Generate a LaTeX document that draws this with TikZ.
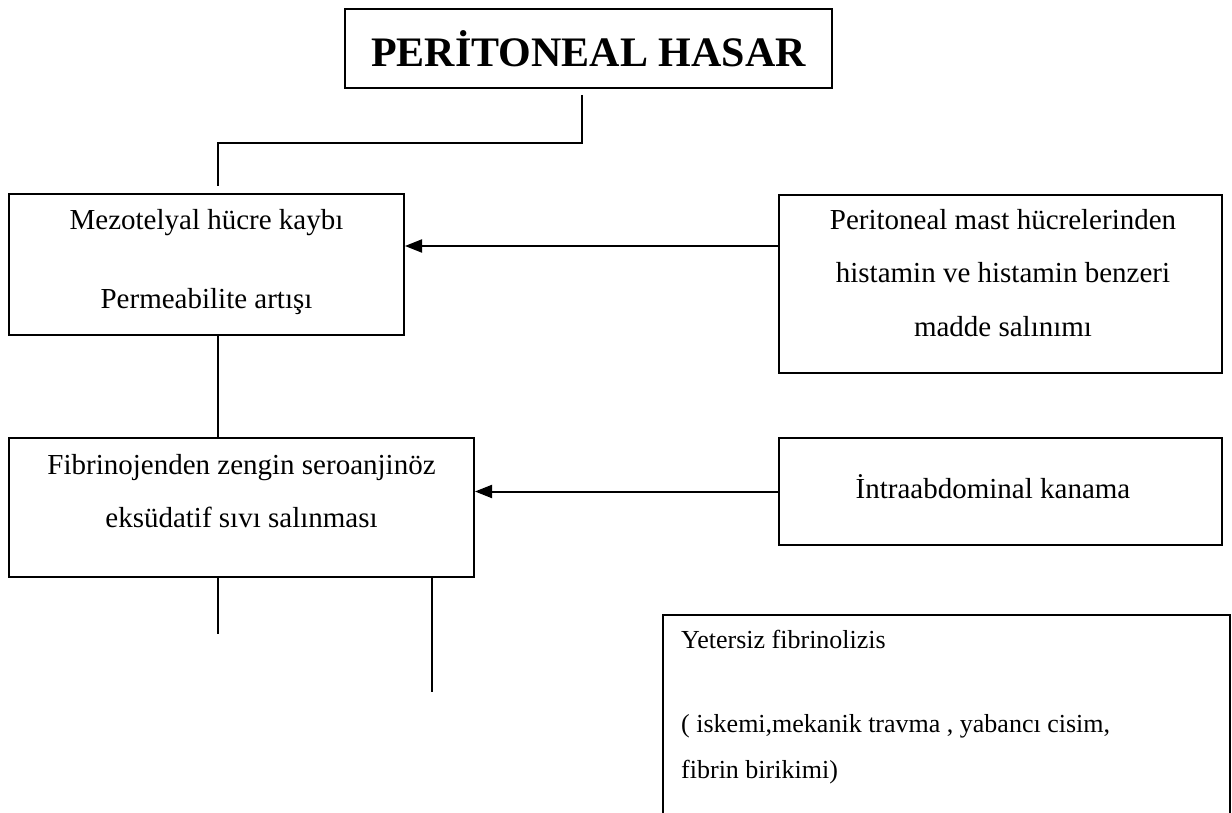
\documentclass[tikz,border=0pt]{standalone}
\usepackage{fontspec}
\setmainfont{Liberation Serif}
\usetikzlibrary{arrows.meta}

\begin{document}
\begin{tikzpicture}[x=1pt,y=-1pt,
                font=\fontsize{29}{53.5}\selectfont,
                box/.style={draw, line width=2pt, inner sep=0pt},
                txt/.style={inner sep=0pt, align=center},
                link/.style={line width=2pt},
                arr/.style={-{Triangle[length=17pt,width=13pt]}, line width=2pt}
                ]
                \useasboundingbox (0,0) rectangle (1232,813);
                \clip (0,0) rectangle (1232,813);

                % boxes
                \node[box, minimum width=487pt, minimum height=79pt] (title) at (588.5,48.5)
                    {\fontsize{42}{50}\selectfont\bfseries PERİTONEAL HASAR};
                \node[box, minimum width=395pt, minimum height=141pt] (mezo) at (206.5,264.5) {};
                \node[box, minimum width=443pt, minimum height=178pt] (mast) at (1000.5,284) {};
                \node[box, minimum width=465pt, minimum height=139pt] (fibrin) at (241.5,507.5) {};
                \node[box, minimum width=443pt, minimum height=107pt] (intra) at (1000.5,491.5) {};
                \node[box, minimum width=567pt, minimum height=285pt] (yetersiz) at (946.5,757.5) {};

                % texts
                \node[txt] (mezotxt) at (206.5,262.5) {Mezotelyal hücre kaybı\\[25.5pt]Permeabilite artışı};
                \node[txt] (masttxt) at (1003,273) {Peritoneal mast hücrelerinden\\histamin ve histamin benzeri\\madde salınımı};
                \node[txt] (fibrintxt) at (241.5,491) {Fibrinojenden zengin seroanjinöz\\eksüdatif sıvı salınması};
                \node[txt] (intratxt) at (993,487) {İntraabdominal kanama};
                \node[txt, align=left, anchor=west, font=\fontsize{26}{46}\selectfont] (yetersiztxt) at (681,707.5)
                    {Yetersiz fibrinolizis\\[38pt]( iskemi,mekanik travma , yabancı cisim,\\fibrin birikimi)};

                % free ends
                \coordinate (endA) at (218,634);
                \coordinate (endB) at (432,692);

                % connectors
                \draw[link, shorten <=6pt, shorten >=7pt] ([xshift=-6.5pt]title.south) -- ++(0,54) -| ([xshift=11.5pt]mezo.north);
                \draw[link] ([xshift=11.5pt]mezo.south) -- ([xshift=11.5pt]mezo.south |- fibrin.north);
                \draw[link] (fibrin.south -| endA) -- (endA);
                \draw[link] (fibrin.south -| endB) -- (endB);
                \draw[arr] ([yshift=38pt]mast.west) -- ([yshift=38pt]mast.west -| mezo.east);
                \draw[arr] (intra.west) -- (intra.west -| fibrin.east);
            \end{tikzpicture}
\end{document}
